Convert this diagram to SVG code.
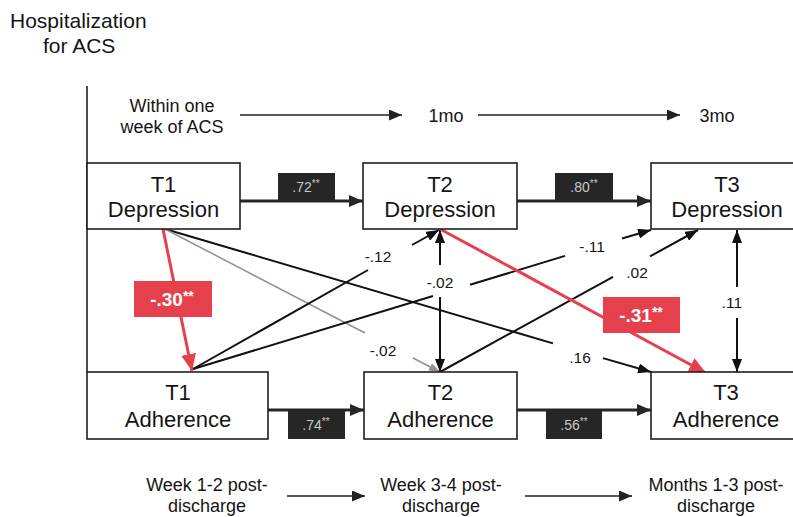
<svg xmlns="http://www.w3.org/2000/svg" width="793" height="517" viewBox="0 0 793 517">
<defs>
<style>
text{font-family:"Liberation Sans",Arial,sans-serif;fill:#151515}
.node rect{fill:#fff;stroke:#1e1e1e;stroke-width:1.6}
.nt{font-size:22px;text-anchor:middle}
.lab{font-size:15.5px;text-anchor:middle}
.tl{font-size:18px;text-anchor:middle}
.hdr{font-size:21px}
.thick{stroke:#262626;stroke-width:3;fill:none;marker-end:url(#mThick)}
.thin{stroke:#111;stroke-width:2;fill:none}
.thinA{stroke:#111;stroke-width:2;fill:none;marker-end:url(#mThin)}
.gray{stroke:#9c8c8a;stroke-width:1.5;fill:none}
.grayA{stroke:#9c8c8a;stroke-width:1.5;fill:none;marker-end:url(#mGray)}
.red{stroke:#e5404c;stroke-width:3;fill:none;marker-end:url(#mRed)}
.time{stroke:#222;stroke-width:1.6;fill:none;marker-end:url(#mTime)}
.cbox{fill:#262626}
.ctext{font-size:14px;text-anchor:middle;fill:#c8c8c8}
.rbox{fill:#e5404c}
.rtext{font-size:19px;font-weight:bold;text-anchor:middle;fill:#fff}
</style>
<marker id="mThick" markerUnits="userSpaceOnUse" viewBox="0 0 14 12" refX="14" refY="6" markerWidth="14" markerHeight="12" orient="auto"><path d="M0,0 L14,6 L0,12 z" fill="#262626"/></marker>
<marker id="mThin" markerUnits="userSpaceOnUse" viewBox="0 0 13 10" refX="13" refY="5" markerWidth="13" markerHeight="10" orient="auto"><path d="M0,0 L13,5 L0,10 z" fill="#111"/></marker>
<marker id="mGray" markerUnits="userSpaceOnUse" viewBox="0 0 11 8" refX="11" refY="4" markerWidth="11" markerHeight="8" orient="auto"><path d="M0,0 L11,4 L0,8 z" fill="#9c8c8a"/></marker>
<marker id="mRed" markerUnits="userSpaceOnUse" viewBox="0 0 17 15" refX="17" refY="7.5" markerWidth="17" markerHeight="15" orient="auto"><path d="M0,0 L17,7.5 L0,15 z" fill="#e5404c"/></marker>
<marker id="mTime" markerUnits="userSpaceOnUse" viewBox="0 0 13 11" refX="13" refY="5.5" markerWidth="13" markerHeight="11" orient="auto"><path d="M0,0 L13,5.5 L0,11 z" fill="#222"/></marker>
</defs>
<rect width="793" height="517" fill="#fff"/>

<g id="header">
<text class="hdr" x="10" y="28">Hospitalization</text>
<text class="hdr" x="43" y="53">for ACS</text>
</g>

<g id="timeline">
<line x1="87" y1="86" x2="87" y2="372" stroke="#1e1e1e" stroke-width="1.6"/>
<text class="tl" x="172" y="112">Within one</text>
<text class="tl" x="172" y="133">week of ACS</text>
<text class="tl" x="446" y="122">1mo</text>
<text class="tl" x="717" y="122">3mo</text>
<text class="tl" x="207" y="491">Week 1-2 post-</text>
<text class="tl" x="207" y="512">discharge</text>
<text class="tl" x="441" y="491">Week 3-4 post-</text>
<text class="tl" x="441" y="512">discharge</text>
<text class="tl" x="716" y="491">Months 1-3 post-</text>
<text class="tl" x="716" y="512">discharge</text>
</g>

<g id="connectors">
<line class="time" x1="240" y1="115" x2="402" y2="115"/>
<line class="time" x1="478" y1="115" x2="680" y2="115"/>
<line class="time" x1="287" y1="496" x2="365" y2="496"/>
<line class="time" x1="525" y1="496" x2="632" y2="496"/>

<line class="thick" x1="240" y1="201" x2="363" y2="201"/>
<line class="thick" x1="517" y1="201" x2="651" y2="201"/>
<line class="thick" x1="268" y1="410" x2="364" y2="410"/>
<line class="thick" x1="517" y1="410" x2="651" y2="410"/>

<line class="thin" x1="165" y1="229" x2="553" y2="343.4"/>
<line class="thinA" x1="603" y1="358.1" x2="651" y2="372"/>
<line class="gray" x1="165" y1="229" x2="365" y2="333"/>
<line class="grayA" x1="413" y1="358" x2="440" y2="372"/>
<line class="thin" x1="193" y1="369" x2="368" y2="270"/>
<line class="thinA" x1="412" y1="245" x2="439" y2="230"/>
<line class="thin" x1="193" y1="369" x2="433" y2="296"/>
<line class="thin" x1="470" y1="284.8" x2="565" y2="255.9"/>
<line class="thinA" x1="622" y1="238.5" x2="651" y2="230"/>
<line class="thin" x1="440" y1="372" x2="613" y2="276.8"/>
<line class="thinA" x1="650" y1="256.4" x2="698" y2="230"/>
<line class="thinA" x1="440" y1="265" x2="440" y2="230"/>
<line class="thinA" x1="440" y1="297" x2="440" y2="372"/>
<line class="thinA" x1="737" y1="287" x2="737" y2="230"/>
<line class="thinA" x1="737" y1="318" x2="737" y2="372"/>
<line class="red" x1="163" y1="229" x2="192" y2="371"/>
<line class="red" x1="440" y1="229" x2="706" y2="373"/>

<text class="lab" x="580" y="363">.16</text>
<text class="lab" x="383" y="356">-.02</text>
<text class="lab" x="378" y="262">-.12</text>
<text class="lab" x="440" y="288">-.02</text>
<text class="lab" x="592" y="252">-.11</text>
<text class="lab" x="637" y="278">.02</text>
<text class="lab" x="732" y="308">.11</text>

<rect class="cbox" x="278" y="173" width="57" height="27"/>
<text class="ctext" x="306" y="192">.72<tspan font-size="10" dy="-5">**</tspan></text>
<rect class="cbox" x="555" y="173" width="58" height="27"/>
<text class="ctext" x="584" y="192">.80<tspan font-size="10" dy="-5">**</tspan></text>
<rect class="cbox" x="288" y="411" width="57" height="28"/>
<text class="ctext" x="316" y="430">.74<tspan font-size="10" dy="-5">**</tspan></text>
<rect class="cbox" x="546" y="411" width="56" height="28"/>
<text class="ctext" x="574" y="430">.56<tspan font-size="10" dy="-5">**</tspan></text>

<rect class="rbox" x="134" y="281" width="78" height="36"/>
<text class="rtext" x="172" y="306">-.30<tspan font-size="14" dy="-5">**</tspan></text>
<rect class="rbox" x="603" y="297" width="77" height="36"/>
<text class="rtext" x="641" y="322">-.31<tspan font-size="14" dy="-5">**</tspan></text>
</g>

<g id="t1dep" class="node">
<rect x="87" y="163" width="153" height="66"/>
<text class="nt" x="163.5" y="192">T1</text>
<text class="nt" x="163.5" y="217">Depression</text>
</g>
<g id="t2dep" class="node">
<rect x="363" y="163" width="154" height="66"/>
<text class="nt" x="440" y="192">T2</text>
<text class="nt" x="440" y="217">Depression</text>
</g>
<g id="t3dep" class="node">
<rect x="651" y="163" width="152" height="66"/>
<text class="nt" x="727" y="192">T3</text>
<text class="nt" x="727" y="217">Depression</text>
</g>
<g id="t1adh" class="node">
<rect x="87" y="372" width="181" height="67"/>
<text class="nt" x="178" y="400">T1</text>
<text class="nt" x="178" y="427">Adherence</text>
</g>
<g id="t2adh" class="node">
<rect x="364" y="372" width="153" height="67"/>
<text class="nt" x="440.5" y="400">T2</text>
<text class="nt" x="440.5" y="427">Adherence</text>
</g>
<g id="t3adh" class="node">
<rect x="651" y="372" width="152" height="67"/>
<text class="nt" x="726" y="400">T3</text>
<text class="nt" x="726" y="427">Adherence</text>
</g>
</svg>
